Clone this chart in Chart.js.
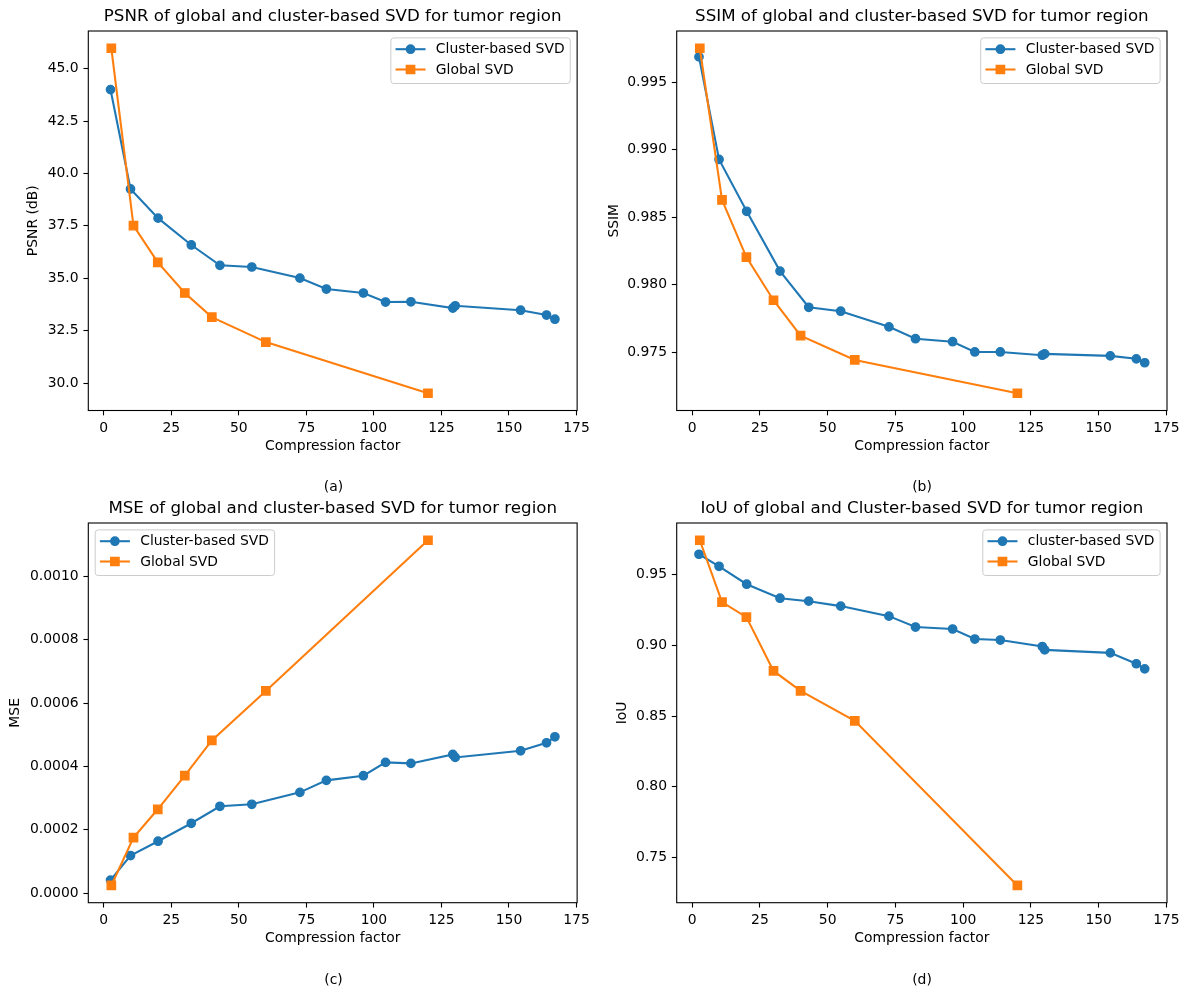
<!DOCTYPE html>
<html><head><meta charset="utf-8">
<script src="https://cdn.jsdelivr.net/npm/chart.js@4.4.1/dist/chart.umd.min.js"></script>
<style>
html,body{margin:0;padding:0;background:#fff;}
body{width:1189px;height:996px;position:relative;overflow:hidden;font-family:"DejaVu Sans";}
canvas{position:absolute;}
.cap{position:absolute;font-size:13.9px;color:#000;transform:translate(-50%,-50%);white-space:nowrap;font-family:"DejaVu Sans";}
</style></head><body>
<canvas id="ca" width="594" height="492" style="left:0px;top:0px;width:594px;height:492px"></canvas>
<canvas id="cb" width="595" height="492" style="left:594px;top:0px;width:595px;height:492px"></canvas>
<canvas id="cc" width="594" height="504" style="left:0px;top:492px;width:594px;height:504px"></canvas>
<canvas id="cd" width="595" height="504" style="left:594px;top:492px;width:595px;height:504px"></canvas>
<div class="cap" style="left:333.5px;top:486px">(a)</div>
<div class="cap" style="left:922px;top:486px">(b)</div>
<div class="cap" style="left:333.5px;top:979px">(c)</div>
<div class="cap" style="left:922px;top:979px">(d)</div>
<script>
// ---- data ----
const cfCluster = [2.5, 9.9, 20.1, 32.4, 43.0, 54.8, 72.6, 82.4, 96.1, 104.3, 113.7, 129.2, 130.1, 154.3, 163.9, 167.0];
const cfGlobal = [2.8, 11.0, 20.0, 30.0, 40.0, 60.0, 120.0];

const psnrCluster = [44.00, 39.26, 37.87, 36.59, 35.62, 35.54, 35.01, 34.49, 34.30, 33.87, 33.88, 33.58, 33.69, 33.48, 33.25, 33.05];
const psnrGlobal = [45.97, 37.51, 35.76, 34.30, 33.15, 31.96, 29.52];

const ssimCluster = [0.99688, 0.98928, 0.98544, 0.98101, 0.97833, 0.97804, 0.97688, 0.97600, 0.97578, 0.97502, 0.97502, 0.97478, 0.97488, 0.97473, 0.97451, 0.97422];
const ssimGlobal = [0.99752, 0.98628, 0.98205, 0.97885, 0.97623, 0.97443, 0.97196];

const mseCluster = [0.0000410, 0.0001187, 0.0001639, 0.0002206, 0.0002742, 0.0002805, 0.0003183, 0.0003561, 0.0003708, 0.0004128, 0.0004097, 0.0004380, 0.0004286, 0.0004496, 0.0004748, 0.0004937];
const mseGlobal = [0.0000242, 0.0001754, 0.0002647, 0.0003708, 0.0004821, 0.0006387, 0.0011145];

const iouCluster = [0.9646, 0.9561, 0.9434, 0.9335, 0.9314, 0.9279, 0.9208, 0.9131, 0.9117, 0.9046, 0.9039, 0.8993, 0.8969, 0.8948, 0.8871, 0.8835];
const iouGlobal = [0.9745, 0.9307, 0.9201, 0.8820, 0.8679, 0.8467, 0.7302];

const xTicks = [0, 25, 50, 75, 100, 125, 150, 175];
const xTickLabels = ['0', '25', '50', '75', '100', '125', '150', '175'];
const psnrTicks = [30.0, 32.5, 35.0, 37.5, 40.0, 42.5, 45.0];
const psnrTickLabels = ['30.0', '32.5', '35.0', '37.5', '40.0', '42.5', '45.0'];
const ssimTicks = [0.975, 0.980, 0.985, 0.990, 0.995];
const ssimTickLabels = ['0.975', '0.980', '0.985', '0.990', '0.995'];
const mseTicks = [0.0000, 0.0002, 0.0004, 0.0006, 0.0008, 0.0010];
const mseTickLabels = ['0.0000', '0.0002', '0.0004', '0.0006', '0.0008', '0.0010'];
const iouTicks = [0.75, 0.80, 0.85, 0.90, 0.95];
const iouTickLabels = ['0.75', '0.80', '0.85', '0.90', '0.95'];

// ---- styling / helpers ----
const BLUE = '#1f77b4', ORANGE = '#ff7f0e';
const FS = 13.9;
Chart.defaults.font.family = '"DejaVu Sans"';
Chart.defaults.color = '#000';

function autoRange(arrs) {
  const all = [].concat(...arrs);
  const mn = Math.min(...all), mx = Math.max(...all);
  const m = (mx - mn) * 0.05;
  return [mn - m, mx + m];
}
const xRange = autoRange([cfCluster, cfGlobal]);

const framePlugin = {
  id: 'frame',
  afterDatasetsDraw(chart) {
    const {ctx, chartArea: a} = chart;
    ctx.save();
    ctx.strokeStyle = '#000';
    ctx.lineWidth = 1.1;
    ctx.strokeRect(a.left, a.top, a.right - a.left, a.bottom - a.top);
    ctx.restore();
  }
};

function legendPlugin(loc) {
  return {
    id: 'boxLegend',
    afterDraw(chart) {
      const {ctx, chartArea: a} = chart;
      ctx.save();
      ctx.font = FS + 'px "DejaVu Sans"';
      const items = chart.data.datasets;
      const tw = Math.max(...items.map(d => ctx.measureText(d.label).width));
      const w = 45 + tw + 5.6, h = 45.6, pad = 6.9;
      const left = loc === 'left' ? a.left + pad : a.right - pad - w;
      const top = a.top + pad;
      const r = 3;
      ctx.beginPath();
      ctx.moveTo(left + r, top);
      ctx.lineTo(left + w - r, top);
      ctx.arcTo(left + w, top, left + w, top + r, r);
      ctx.lineTo(left + w, top + h - r);
      ctx.arcTo(left + w, top + h, left + w - r, top + h, r);
      ctx.lineTo(left + r, top + h);
      ctx.arcTo(left, top + h, left, top + h - r, r);
      ctx.lineTo(left, top + r);
      ctx.arcTo(left, top, left + r, top, r);
      ctx.closePath();
      ctx.fillStyle = 'rgba(255,255,255,0.8)';
      ctx.fill();
      ctx.strokeStyle = '#cccccc';
      ctx.lineWidth = 1;
      ctx.stroke();
      items.forEach((d, i) => {
        const cy = top + 11.3 + i * 20.3;
        const hx0 = left + 4.7, hx1 = left + 34.7, mx = (hx0 + hx1) / 2;
        ctx.strokeStyle = d.borderColor;
        ctx.lineWidth = 2.08;
        ctx.beginPath(); ctx.moveTo(hx0, cy); ctx.lineTo(hx1, cy); ctx.stroke();
        ctx.fillStyle = d.borderColor;
        ctx.lineWidth = 1.39;
        ctx.beginPath();
        if (d.pointStyle === 'rect') {
          ctx.rect(mx - 4.17, cy - 4.17, 8.33, 8.33);
        } else {
          ctx.arc(mx, cy, 4.17, 0, Math.PI * 2);
        }
        ctx.fill(); ctx.stroke();
        ctx.fillStyle = '#000';
        ctx.textBaseline = 'middle';
        ctx.textAlign = 'left';
        ctx.fillText(d.label, left + 45, cy + 0.5);
      });
      ctx.restore();
    }
  };
}

function makeChart(id, p) {
  const yRange = autoRange([p.clusterY, p.globalY]);
  const ds = (label, xs, ys, color, style, radius, order) => ({
    label, data: xs.map((x, i) => ({x, y: ys[i]})), showLine: true,
    borderColor: color, backgroundColor: color, borderWidth: 2.08,
    pointStyle: style, pointRadius: radius, pointHoverRadius: radius,
    pointBorderWidth: 1.39, pointHoverBorderWidth: 1.39, tension: 0, order
  });
  new Chart(document.getElementById(id), {
    type: 'scatter',
    data: {datasets: [
      ds(p.clusterLabel, cfCluster, p.clusterY, BLUE, 'circle', 4.17, 1),
      ds('Global SVD', cfGlobal, p.globalY, ORANGE, 'rect', 5.89, 0)
    ]},
    options: {
      responsive: false, animation: false, devicePixelRatio: 1,
      events: [],
      layout: {padding: {left: 0, right: p.padRight, top: 0, bottom: p.padBottom}},
      plugins: {
        legend: {display: false},
        tooltip: {enabled: false},
        title: {display: true, text: p.title, fullSize: false, color: '#000',
          font: {size: 16.67, weight: 'normal'}, padding: {top: 7, bottom: 4}}
      },
      scales: {
        x: {
          type: 'linear', min: xRange[0], max: xRange[1],
          afterFit: s => { s.height = 44; },
          afterBuildTicks: s => { s.ticks = xTicks.map(v => ({value: v})); },
          ticks: {callback: (v, i) => xTickLabels[i], color: '#000', font: {size: FS}, padding: 4.2, autoSkip: false, maxRotation: 0},
          grid: {drawOnChartArea: false, drawTicks: true, tickLength: 4.86, tickWidth: 1.1, tickColor: '#000'},
          border: {display: false},
          title: {display: true, text: 'Compression factor', color: '#000', font: {size: FS}, padding: 0}
        },
        y: {
          type: 'linear', min: yRange[0], max: yRange[1],
          afterFit: s => { s.width = p.chartLeft; },
          afterBuildTicks: s => { s.ticks = p.yTicks.map(v => ({value: v})); },
          ticks: {callback: (v, i) => p.yTickLabels[i], color: '#000', font: {size: FS}, padding: 4.86, autoSkip: false},
          grid: {drawOnChartArea: false, drawTicks: true, tickLength: 4.86, tickWidth: 1.1, tickColor: '#000'},
          border: {display: false},
          title: {display: true, text: p.ylabel, color: '#000', font: {size: FS}, padding: {top: p.yTitlePad, bottom: 0}}
        }
      }
    },
    plugins: [framePlugin, legendPlugin(p.legendLoc)]
  });
}

makeChart('ca', {title: 'PSNR of global and cluster-based SVD for tumor region', ylabel: 'PSNR (dB)',
  clusterLabel: 'Cluster-based SVD', clusterY: psnrCluster, globalY: psnrGlobal,
  yTicks: psnrTicks, yTickLabels: psnrTickLabels, chartLeft: 88.3, padRight: 15, padBottom: 37.5, yTitlePad: 25.2, legendLoc: 'right'});
makeChart('cb', {title: 'SSIM of global and cluster-based SVD for tumor region', ylabel: 'SSIM',
  clusterLabel: 'Cluster-based SVD', clusterY: ssimCluster, globalY: ssimGlobal,
  yTicks: ssimTicks, yTickLabels: ssimTickLabels, chartLeft: 82.7, padRight: 22, padBottom: 37.5, yTitlePad: 11.7, legendLoc: 'right'});
makeChart('cc', {title: 'MSE of global and cluster-based SVD for tumor region', ylabel: 'MSE',
  clusterLabel: 'Cluster-based SVD', clusterY: mseCluster, globalY: mseGlobal,
  yTicks: mseTicks, yTickLabels: mseTickLabels, chartLeft: 88.3, padRight: 15, padBottom: 49.3, yTitlePad: 7.5, legendLoc: 'left'});
makeChart('cd', {title: 'IoU of global and Cluster-based SVD for tumor region', ylabel: 'IoU',
  clusterLabel: 'cluster-based SVD', clusterY: iouCluster, globalY: iouGlobal,
  yTicks: iouTicks, yTickLabels: iouTickLabels, chartLeft: 82.7, padRight: 22, padBottom: 49.3, yTitlePad: 20.4, legendLoc: 'right'});
</script>
</body></html>
